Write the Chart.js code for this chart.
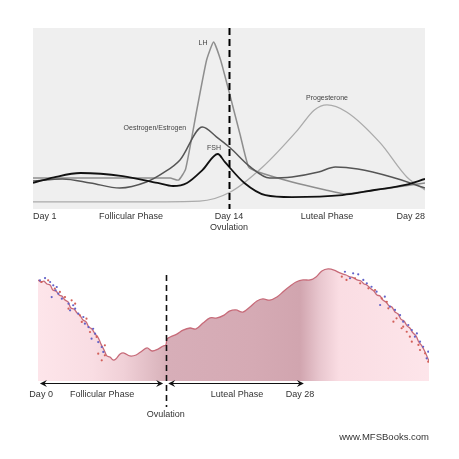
<!DOCTYPE html>
<html><head><meta charset="utf-8">
<script src="https://cdn.jsdelivr.net/npm/chart.js@4.4.1/dist/chart.umd.min.js"></script>
<style>
html,body{margin:0;padding:0;background:#fff;}
#wrap{position:relative;width:459px;height:459px;overflow:hidden;}
canvas{position:absolute;left:0;}
#c1{top:0;} #c2{top:245px;}
</style></head>
<body><div id="wrap"><canvas id="c1" width="459" height="245"></canvas><canvas id="c2" width="459" height="214"></canvas></div>
<script>
// ---------- TOP CHART DATA (x = cycle position 0..28, y = relative level 0..100) ----------
const fshDays   = [0, 1.5, 3.4, 6.4, 8.9, 10, 11, 12.1, 13.2, 13.7, 15.1, 16.6, 18.5, 22.1, 24.4, 26.6, 28];
const fshValues = [14.4, 17.5, 19.9, 18.2, 14.4, 12.7, 14.4, 21.5, 30.4, 26.0, 14.4, 7.7, 6.6, 7.7, 10.5, 13.3, 16.6];
const oestrogenDays   = [0, 2.1, 4.1, 6.2, 8.1, 9.3, 10.5, 12.1, 13.1, 14.1, 15.5, 16.9, 18.5, 20.4, 21.6, 23.2, 25.6, 28];
const oestrogenValues = [15.5, 16.6, 14.4, 11.6, 14.9, 19.9, 27.1, 45.3, 39.9, 33.7, 23.4, 17.1, 17.7, 20.4, 23.2, 22.1, 17.7, 11.6];
const lhDays   = [0, 5, 9.8, 10.4, 10.9, 11.7, 12.4, 12.9, 13.4, 14.1, 14.8, 15.4, 16.1, 18.5, 20.9, 22.3, 25.5, 28];
const lhValues = [17.1, 17.1, 17.1, 16.0, 22.0, 54.7, 82.3, 92.3, 82.3, 61.9, 40.9, 23.2, 20.4, 14.9, 10.5, 8.3, 11.6, 14.4];
const progDays   = [0, 6, 11.9, 14.1, 16.4, 18.9, 20.1, 21, 22.4, 24.8, 26.7, 28];
const progValues = [3.9, 3.9, 4.4, 9.4, 23.2, 43.6, 54.7, 57.5, 53.6, 36.5, 17.7, 10.5];
const topOvulationDay = 14;
const topTickDays = [0, 14, 28];
const topTickLabels = ['Day 1', 'Day 14', 'Day 28'];
const topPhaseDays = [7, 21];
const topPhaseLabels = ['Follicular Phase', 'Luteal Phase'];
const topOvulationLabel = 'Ovulation';
const curveNames = ['LH', 'Oestrogen/Estrogen', 'FSH', 'Progesterone'];
const curveNameDays = [12.14, 8.71, 12.93, 21];
const curveNameValues = [91.7, 44.8, 33.7, 61.3];

// ---------- BOTTOM CHART DATA (x = position 0..100, y = level 0..100) ----------
const wallX = [0,0.8,1.5,2.3,3.1,3.8,4.6,5.4,6.1,6.9,7.7,8.4,9.2,10.0,10.7,11.5,12.3,13.0,13.8,14.6,15.3,16.1,16.9,17.6,18.4,19.2,19.9,21.0,22.0,23.5,25.1,26.6,27.9,29.2,30.7,32.0,32.7,33.0,33.8,35.5,37.1,38.9,40.4,42.2,44.0,45.8,47.6,49.1,50.6,52.4,54.2,56.0,57.5,59.3,61.1,62.9,64.5,66.0,67.8,69.6,71.1,72.6,74.2,75.7,77.2,78.8,79.8,80.6,81.6,82.6,83.4,84.1,85.2,85.9,86.7,87.5,88.2,89.0,89.8,90.5,91.3,92.1,92.8,93.6,94.4,95.1,95.9,96.7,97.4,98.2,99.0,100];
const wallY = [83.5,81.8,82.6,80.2,79.3,75.2,74.4,71.1,70.2,66.9,65.3,60.3,59.5,56.2,54.5,50.4,48.8,44.6,43.0,38.8,36.4,30.6,25.6,20.7,19.8,17.4,18.2,22.3,23.1,20.7,21.5,24.8,27.3,24.8,26.4,28.9,29.8,34.7,36.4,38.8,42.1,43.8,43.0,47.9,52.1,52.1,54.5,57.9,58.7,57.0,61.2,66.1,67.8,66.9,69.4,74.4,78.5,81.8,83.5,83.5,86.0,90.9,92.6,91.7,89.3,87.6,86.0,85.5,83.5,82.6,80.2,79.3,76.0,74.4,71.1,70.2,66.9,65.3,62.0,61.2,57.0,55.4,51.2,49.6,45.5,43.8,39.7,37.2,32.2,28.9,24.0,16.5];
const blueDotX = [0.5,1.8,3.1,3.9,4.8,4.5,5.2,3.5,6.1,7.8,9.0,9.5,8.2,10.3,11.6,12.0,12.9,14.1,14.6,13.7,15.4,16.3,16.7,
                  78.5,80.6,81.9,79.8,83.2,84.1,85.3,86.6,88.7,87.5,90.0,91.3,92.6,93.4,94.7,95.6,96.9,96.4,97.7,98.5,99.8,99.4];
const blueDotY = [83.2,85.1,81.8,79.1,77.7,75.0,72.2,69.4,68.0,63.9,62.6,59.8,58.4,55.6,52.9,47.4,44.6,43.2,39.1,35.0,32.2,28.1,24.0,
                  90.3,89.0,88.2,84.9,83.5,80.7,77.9,73.8,69.7,62.8,61.4,58.7,54.5,49.0,46.3,42.1,39.3,36.6,32.5,28.3,24.2,18.7];
const redDotX = [0.9,2.6,4.3,5.6,6.9,8.6,9.5,7.8,10.7,12.4,11.2,13.3,15.0,17.1,15.4,17.1,16.3,
                 77.7,78.9,81.1,82.4,84.5,86.2,87.9,89.2,89.6,91.7,90.9,93.0,94.3,95.1,97.3,97.7,99.0,99.8,95.6,93.4];
const redDotY = [81.8,83.2,76.3,73.6,69.4,66.7,63.9,59.8,54.3,51.5,48.8,40.5,36.4,29.5,22.6,21.2,17.1,
                 86.2,83.5,84.9,80.7,76.6,75.2,68.3,65.5,60.1,51.8,49.0,43.6,40.7,36.6,29.8,25.6,22.9,16.0,32.5,44.9];
const bottomOvulationX = 32.7;
const bottomOvulationTopY = 87.6;
const phaseArrowSpans = [[0.5, 32.0], [33.3, 68.0]];
const bottomLabelX = [0.8, 16.4, 50.9, 67.0];
const bottomLabels = ['Day 0', 'Follicular Phase', 'Luteal Phase', 'Day 28'];
const bottomOvulationLabel = 'Ovulation';
const siteLabel = 'www.MFSBooks.com';

const FONT = '"Liberation Sans", Arial, Helvetica, sans-serif';
const zip = (xs, ys) => xs.map((x, i) => ({x, y: ys[i]}));

// ---------- TOP CHART ----------
const topDecor = {
  id: 'topDecor',
  beforeDatasetsDraw(chart) {
    const {ctx, chartArea: a} = chart;
    ctx.save(); ctx.fillStyle = '#efefef';
    ctx.fillRect(a.left, a.top, a.right - a.left, a.bottom - a.top);
    ctx.restore();
  },
  afterDatasetsDraw(chart) {
    const {ctx, chartArea: a, scales: {x, y}} = chart;
    ctx.save();
    const px = Math.round(x.getPixelForValue(topOvulationDay)) + 0.5;
    ctx.strokeStyle = '#000'; ctx.lineWidth = 2; ctx.setLineDash([7, 4]);
    ctx.beginPath(); ctx.moveTo(px, a.top); ctx.lineTo(px, a.bottom); ctx.stroke();
    ctx.setLineDash([]);
    ctx.font = '7px ' + FONT; ctx.fillStyle = '#444'; ctx.textAlign = 'center'; ctx.textBaseline = 'middle';
    curveNames.forEach((t, i) => ctx.fillText(t, x.getPixelForValue(curveNameDays[i]), y.getPixelForValue(curveNameValues[i])));
    ctx.font = '9px ' + FONT; ctx.fillStyle = '#333';
    const rowY = a.bottom + 8;
    topTickDays.forEach((d, i) => {
      ctx.textAlign = i === 0 ? 'left' : (i === topTickDays.length - 1 ? 'right' : 'center');
      ctx.fillText(topTickLabels[i], x.getPixelForValue(d), rowY);
    });
    ctx.textAlign = 'center';
    topPhaseDays.forEach((d, i) => ctx.fillText(topPhaseLabels[i], x.getPixelForValue(d), rowY));
    ctx.fillText(topOvulationLabel, x.getPixelForValue(topOvulationDay), rowY + 11);
    ctx.restore();
  }
};

new Chart(document.getElementById('c1'), {
  type: 'line',
  data: { datasets: [
    {label: 'FSH', data: zip(fshDays, fshValues), borderColor: '#111', borderWidth: 1.8, order: 0},
    {label: 'Oestrogen', data: zip(oestrogenDays, oestrogenValues), borderColor: '#555', borderWidth: 1.5, order: 1},
    {label: 'LH', data: zip(lhDays, lhValues), borderColor: '#8e8e8e', borderWidth: 1.5, order: 2, cubicInterpolationMode: 'default', tension: 0.15},
    {label: 'Progesterone', data: zip(progDays, progValues), borderColor: '#ababab', borderWidth: 1.3, order: 3}
  ]},
  options: {
    responsive: false, animation: false, devicePixelRatio: 1, events: [],
    layout: {padding: {left: 33, right: 34, top: 28, bottom: 36}},
    elements: {point: {radius: 0}, line: {tension: 0.4, cubicInterpolationMode: 'monotone', fill: false}},
    scales: {x: {type: 'linear', min: 0, max: 28, display: false}, y: {min: 0, max: 100, display: false}},
    plugins: {legend: {display: false}, tooltip: {enabled: false}}
  },
  plugins: [topDecor]
});

// ---------- BOTTOM CHART ----------
function drawArrowHead(ctx, tipX, tipY, dir) {
  ctx.beginPath();
  ctx.moveTo(tipX, tipY);
  ctx.lineTo(tipX - dir * 7, tipY - 3.5);
  ctx.lineTo(tipX - dir * 4.5, tipY);
  ctx.lineTo(tipX - dir * 7, tipY + 3.5);
  ctx.closePath(); ctx.fill();
}
const bottomDecor = {
  id: 'bottomDecor',
  afterDatasetsDraw(chart) {
    const {ctx, chartArea: a, scales: {x, y}} = chart;
    ctx.save();
    const px = Math.round(x.getPixelForValue(bottomOvulationX)) + 0.5;
    ctx.strokeStyle = '#111'; ctx.lineWidth = 1.6; ctx.setLineDash([6, 4]);
    ctx.beginPath(); ctx.moveTo(px, y.getPixelForValue(bottomOvulationTopY)); ctx.lineTo(px, a.bottom + 26); ctx.stroke();
    ctx.setLineDash([]);
    const ay = a.bottom + 2.5;
    ctx.strokeStyle = '#111'; ctx.fillStyle = '#111'; ctx.lineWidth = 1.2;
    phaseArrowSpans.forEach(([s, e]) => {
      const x0 = x.getPixelForValue(s), x1 = x.getPixelForValue(e);
      ctx.beginPath(); ctx.moveTo(x0 + 3, ay); ctx.lineTo(x1 - 3, ay); ctx.stroke();
      drawArrowHead(ctx, x0, ay, -1);
      drawArrowHead(ctx, x1, ay, 1);
    });
    ctx.font = '9px ' + FONT; ctx.fillStyle = '#333'; ctx.textAlign = 'center'; ctx.textBaseline = 'middle';
    bottomLabels.forEach((t, i) => ctx.fillText(t, x.getPixelForValue(bottomLabelX[i]), a.bottom + 14));
    ctx.fillText(bottomOvulationLabel, x.getPixelForValue(bottomOvulationX), a.bottom + 34);
    ctx.font = '9.5px ' + FONT; ctx.textAlign = 'right';
    ctx.fillText(siteLabel, a.right, a.bottom + 56);
    ctx.restore();
  }
};
function wallGradient(context) {
  const chart = context.chart; const a = chart.chartArea;
  if (!a) return 'rgba(0,0,0,0)';
  const g = chart.ctx.createLinearGradient(a.left, 0, a.right, 0);
  g.addColorStop(0.00, '#fde5ea');
  g.addColorStop(0.14, '#f9dde3');
  g.addColorStop(0.22, '#f0d0d7');
  g.addColorStop(0.31, '#dcb7bf');
  g.addColorStop(0.33, '#d7aeb8');
  g.addColorStop(0.55, '#d5aab4');
  g.addColorStop(0.67, '#d1a5af');
  g.addColorStop(0.72, '#e8c6ce');
  g.addColorStop(0.77, '#fadde3');
  g.addColorStop(1.00, '#fde5ea');
  return g;
}
new Chart(document.getElementById('c2'), {
  type: 'line',
  data: { datasets: [
    {label: 'blue', data: zip(blueDotX, blueDotY), showLine: false, pointRadius: 1.1, pointBorderWidth: 0, pointBackgroundColor: '#6262c8', order: 0},
    {label: 'red', data: zip(redDotX, redDotY), showLine: false, pointRadius: 1.1, pointBorderWidth: 0, pointBackgroundColor: '#d2605a', order: 1},
    {label: 'wall', data: zip(wallX, wallY), borderColor: '#c76b79', borderWidth: 1.3, pointRadius: 0, tension: 0.35, fill: 'origin', backgroundColor: wallGradient, order: 2}
  ]},
  options: {
    responsive: false, animation: false, devicePixelRatio: 1, events: [],
    layout: {padding: {left: 38, right: 30, top: 15, bottom: 78}},
    scales: {x: {type: 'linear', min: 0, max: 100, display: false}, y: {min: 0, max: 100, display: false}},
    plugins: {legend: {display: false}, tooltip: {enabled: false}}
  },
  plugins: [bottomDecor]
});
</script></body></html>
